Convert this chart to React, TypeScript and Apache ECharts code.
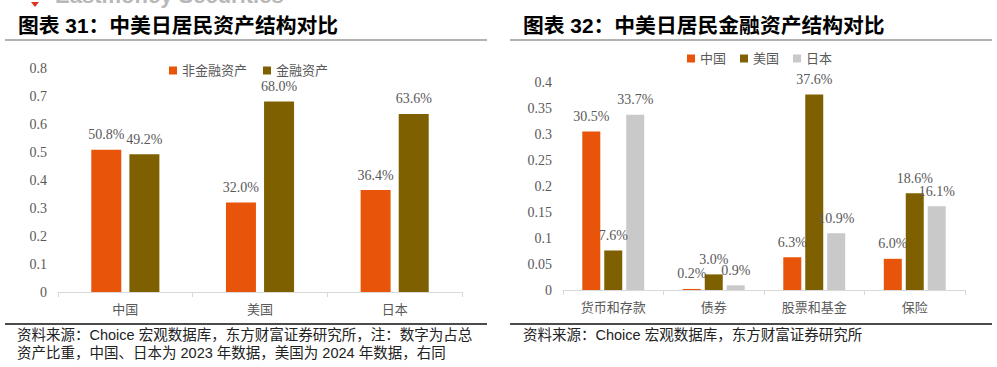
import React, { useEffect, useRef } from "react";
import * as echarts from "echarts";

const cats1 = ["中国", "美国", "日本"];
const nonFinancial = [0.508, 0.32, 0.364];
const financial = [0.492, 0.68, 0.636];

const cats2 = ["货币和存款", "债券", "股票和基金", "保险"];
const china = [0.305, 0.002, 0.063, 0.06];
const usa = [0.076, 0.03, 0.376, 0.186];
const japan = [0.337, 0.009, 0.109, 0.161];

const title1 = "图表 31：中美日居民资产结构对比";
const title2 = "图表 32：中美日居民金融资产结构对比";
const note1a = "资料来源：Choice 宏观数据库，东方财富证券研究所，注：数字为占总";
const note1b = "资产比重，中国、日本为 2023 年数据，美国为 2024 年数据，右同";
const note2 = "资料来源：Choice 宏观数据库，东方财富证券研究所";

const ORANGE = "#E8550A";
const OLIVE = "#7F6000";
const GRAY = "#C9C9C9";
const TXT = "#595959";
const SERIF = "'Liberation Serif', 'Times New Roman', serif";
const CJK = "'Liberation Sans', 'Noto Sans CJK SC', sans-serif";

const pct = (p: any) => (p.value * 100).toFixed(1) + "%";

export default function App() {
  const ref = useRef<HTMLDivElement>(null);
  useEffect(() => {
    if (!ref.current) return;
    const chart = echarts.init(ref.current, undefined, { renderer: "svg" });
    const label = {
      show: true,
      position: "top",
      distance: 8,
      formatter: pct,
      color: TXT,
      fontFamily: SERIF,
      fontSize: 14,
    };
    const xCommon = {
      type: "category",
      axisLine: { lineStyle: { color: "#D9D9D9", width: 1 } },
      axisTick: { show: true, length: 5, lineStyle: { color: "#D9D9D9" } },
      axisLabel: { color: TXT, fontSize: 13, margin: 11, fontFamily: CJK },
    };
    const yCommon = {
      type: "value",
      min: 0,
      splitLine: { show: false },
      axisLine: { show: false },
      axisTick: { show: false },
      axisLabel: { color: TXT, fontFamily: SERIF, fontSize: 14, margin: 11 },
    };
    const legendCommon = {
      icon: "rect",
      itemWidth: 8,
      itemHeight: 8,
      textStyle: { color: TXT, fontSize: 13, fontFamily: CJK },
    };
    chart.setOption({
      animation: false,
      backgroundColor: "#FFFFFF",
      grid: [
        { left: 58, top: 68, width: 404, height: 224 },
        { left: 563, top: 82, width: 402, height: 208 },
      ],
      xAxis: [
        { ...xCommon, gridIndex: 0, data: cats1 },
        { ...xCommon, gridIndex: 1, data: cats2 },
      ],
      yAxis: [
        { ...yCommon, gridIndex: 0, max: 0.8, interval: 0.1 },
        { ...yCommon, gridIndex: 1, max: 0.4, interval: 0.05 },
      ],
      legend: [
        { ...legendCommon, data: ["非金融资产", "金融资产"], left: 164, top: 59, itemGap: 16 },
        { ...legendCommon, data: ["中国", "美国", "日本"], left: 682, top: 47, itemGap: 14 },
      ],
      series: [
        {
          name: "非金融资产", type: "bar", xAxisIndex: 0, yAxisIndex: 0, data: nonFinancial,
          barWidth: 30, barGap: "27%", itemStyle: { color: ORANGE }, label,
        },
        {
          name: "金融资产", type: "bar", xAxisIndex: 0, yAxisIndex: 0, data: financial,
          barWidth: 30, barGap: "27%", itemStyle: { color: OLIVE }, label,
        },
        {
          name: "中国", type: "bar", xAxisIndex: 1, yAxisIndex: 1, data: china,
          barWidth: 18, barGap: "22%", itemStyle: { color: ORANGE }, label,
        },
        {
          name: "美国", type: "bar", xAxisIndex: 1, yAxisIndex: 1, data: usa,
          barWidth: 18, barGap: "22%", itemStyle: { color: OLIVE }, label,
        },
        {
          name: "日本", type: "bar", xAxisIndex: 1, yAxisIndex: 1, data: japan,
          barWidth: 18, barGap: "22%", itemStyle: { color: GRAY }, label,
        },
      ],
      graphic: [
        {
          type: "polygon",
          shape: { points: [[31, 2], [39, 2], [35, 7]] },
          style: { fill: "#E0301E" },
        },
        {
          type: "text",
          x: 55,
          y: 6,
          style: {
            text: "Eastmoney Securities",
            fill: "#B8B8B8",
            font: "bold 22px 'Liberation Sans', Arial, sans-serif",
            textVerticalAlign: "bottom",
          },
        },
        {
          type: "text",
          x: 18,
          y: 25,
          style: {
            text: title1,
            fill: "#000",
            font: "bold 20.8px " + CJK,
            textVerticalAlign: "middle",
          },
        },
        {
          type: "text",
          x: 523,
          y: 25,
          style: {
            text: title2,
            fill: "#000",
            font: "bold 20.8px " + CJK,
            textVerticalAlign: "middle",
          },
        },
        { type: "line", shape: { x1: 5, y1: 40, x2: 487, y2: 40 }, style: { stroke: "#999", lineWidth: 1.5 } },
        { type: "line", shape: { x1: 510, y1: 40, x2: 992, y2: 40 }, style: { stroke: "#999", lineWidth: 1.5 } },
        { type: "line", shape: { x1: 5, y1: 324, x2: 487, y2: 324 }, style: { stroke: "#111", lineWidth: 1.5 } },
        { type: "line", shape: { x1: 510, y1: 324, x2: 992, y2: 324 }, style: { stroke: "#111", lineWidth: 1.5 } },
        {
          type: "text", x: 17, y: 335,
          style: { text: note1a, fill: "#222", font: "14.5px " + CJK, textVerticalAlign: "middle" },
        },
        {
          type: "text", x: 17, y: 353,
          style: { text: note1b, fill: "#222", font: "14.5px " + CJK, textVerticalAlign: "middle" },
        },
        {
          type: "text", x: 523, y: 335,
          style: { text: note2, fill: "#222", font: "14.5px " + CJK, textVerticalAlign: "middle" },
        },
      ],
    });
    return () => chart.dispose();
  }, []);
  return (
    <div
      ref={ref}
      style={{ position: "fixed", left: 0, top: 0, width: 997, height: 367, background: "#fff" }}
    />
  );
}
